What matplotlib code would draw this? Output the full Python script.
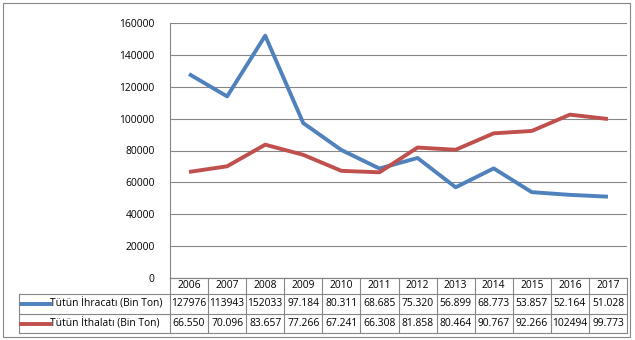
import matplotlib.pyplot as plt
from matplotlib.lines import Line2D
from matplotlib.patches import Rectangle

plt.rcParams['font.family'] = ['Open Sans', 'DejaVu Sans']

years = ['2006', '2007', '2008', '2009', '2010', '2011',
         '2012', '2013', '2014', '2015', '2016', '2017']
ihracat = [127976, 113943, 152033, 97184, 80311, 68685,
           75320, 56899, 68773, 53857, 52164, 51028]
ithalat = [66550, 70096, 83657, 77266, 67241, 66308,
           81858, 80464, 90767, 92266, 102494, 99773]
# labels as printed in the data table
ihracat_txt = ['127976', '113943', '152033', '97.184', '80.311', '68.685',
               '75.320', '56.899', '68.773', '53.857', '52.164', '51.028']
ithalat_txt = ['66.550', '70.096', '83.657', '77.266', '67.241', '66.308',
               '81.858', '80.464', '90.767', '92.266', '102494', '99.773']
series_names = ['Tütün İhracatı (Bin Ton)', 'Tütün İthalatı (Bin Ton)']
colors = ['#4F81BD', '#C0504D']

W, H = 635, 340
fs = 7.4
fig = plt.figure(figsize=(W / 100, H / 100), dpi=100)

# pixel helpers
def fx(px):
    return px / W

def fy(py):
    return 1 - py / H

x0, x1, y_top, y_bot = 170, 627, 23, 278
ax = fig.add_axes([fx(x0), fy(y_bot), fx(x1 - x0), (y_bot - y_top) / H])

grid_c = '#868686'
xs = range(len(years))
ax.plot(xs, ihracat, color=colors[0], lw=2.8, solid_capstyle='butt')
ax.plot(xs, ithalat, color=colors[1], lw=2.8, solid_capstyle='butt')

ax.set_xlim(-0.5, len(years) - 0.5)
ax.set_ylim(0, 160000)
ax.set_yticks(range(0, 160001, 20000))
ax.set_yticklabels([str(v) for v in range(0, 160001, 20000)], fontsize=fs)
ax.tick_params(axis='y', length=0, pad=11)
ax.set_xticks([])
ax.grid(axis='y', color=grid_c, lw=0.8)
ax.set_axisbelow(True)
for s in ['top', 'right']:
    ax.spines[s].set_visible(False)
for s in ['left', 'bottom']:
    ax.spines[s].set_color(grid_c)
    ax.spines[s].set_linewidth(0.8)

# data table under the axis
row_lines = [278, 294, 314, 333]
row_mid = [286, 304, 323.5]
col_w = (x1 - x0) / len(years)
leg_left = 19
lkw = dict(color=grid_c, lw=0.8, transform=fig.transFigure)

for i, yv in enumerate(row_lines):
    left = x0 if i == 0 else leg_left
    fig.add_artist(Line2D([fx(left), fx(x1)], [fy(yv), fy(yv)], **lkw))
for j in range(len(years) + 1):
    xv = x0 + j * col_w
    fig.add_artist(Line2D([fx(xv), fx(xv)], [fy(row_lines[0]), fy(row_lines[-1])], **lkw))
fig.add_artist(Line2D([fx(leg_left), fx(leg_left)],
                      [fy(row_lines[1]), fy(row_lines[-1])], **lkw))

for j, yr in enumerate(years):
    cx = x0 + (j + 0.5) * col_w
    fig.text(fx(cx), fy(row_mid[0]), yr, ha='center', va='center', fontsize=fs)
    fig.text(fx(cx), fy(row_mid[1]), ihracat_txt[j], ha='center', va='center', fontsize=fs)
    fig.text(fx(cx), fy(row_mid[2]), ithalat_txt[j], ha='center', va='center', fontsize=fs)

for k, (name, c) in enumerate(zip(series_names, colors)):
    yc = row_mid[k + 1]
    fig.add_artist(Line2D([fx(21), fx(50)], [fy(yc), fy(yc)], color=c, lw=2.8,
                          transform=fig.transFigure))
    fig.text(fx(50), fy(yc), name, ha='left', va='center', fontsize=fs)

# outer chart frame
fig.add_artist(Rectangle((fx(3), fy(337)), fx(627), 334 / H, fill=False,
                         edgecolor=grid_c, lw=0.8, transform=fig.transFigure))

fig.savefig('out.png', dpi=100)
